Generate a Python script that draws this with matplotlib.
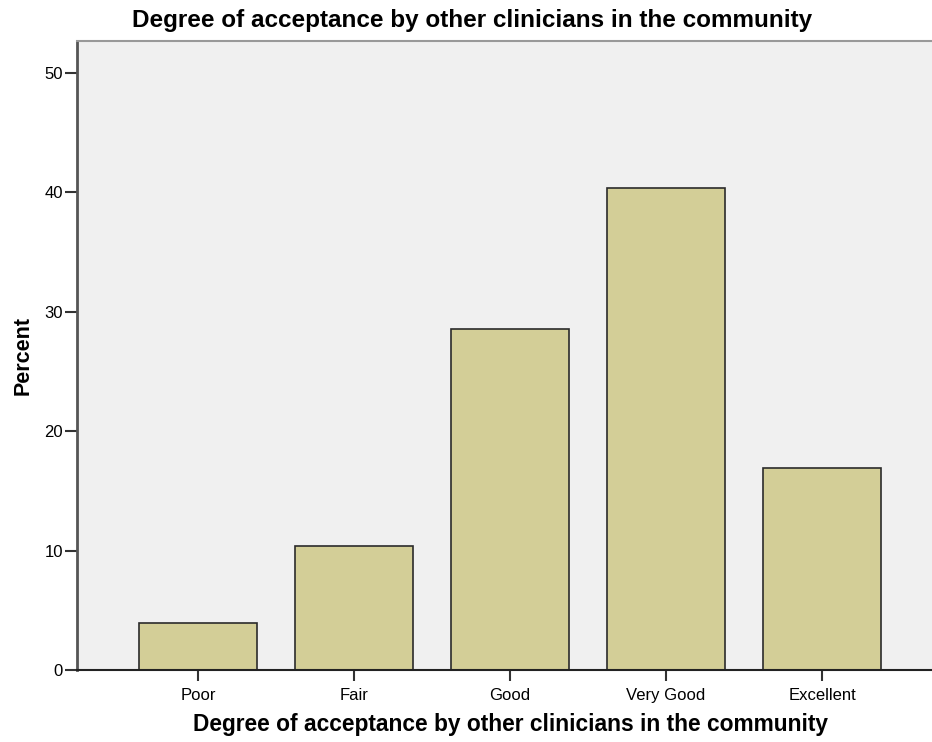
import numpy as np
from matplotlib import pyplot as plt

plt.rcParams['font.family'] = ['Liberation Sans', 'DejaVu Sans']

#categories and percent values
categories = ["Poor", "Fair", "Good", "Very Good", "Excellent"]
percent = [3.9, 10.4, 28.6, 40.4, 16.9]
yticks = [0, 10, 20, 30, 40, 50]
title = "Degree of acceptance by other clinicians in the community"

fig = plt.figure(figsize=(9.32, 7.42), dpi=100)
ax = fig.add_axes([77/932, 72/742, 1 - 77/932, (670-41)/742])
ax.set_facecolor("#f0f0f0")

x = np.arange(len(categories))
ax.bar(x, percent, width=0.756, color="#d3ce97", edgecolor="#2b2b2b", linewidth=1.2, zorder=2)

ax.set_xlim(-0.776, 4.705)
ax.set_ylim(0, 52.68)
ax.set_xticks(x)
ax.set_xticklabels(categories, fontsize=12)
ax.set_yticks(yticks)
ax.set_yticklabels([str(t) for t in yticks], fontsize=12)
ax.tick_params(axis='y', length=9, width=1.5, pad=1, color="#333333")
ax.tick_params(axis='x', length=8, width=1.5, pad=5, color="#333333")

ax.spines['right'].set_visible(False)
ax.spines['top'].set_color("#999999")
ax.spines['top'].set_linewidth(1.5)
ax.spines['left'].set_color("#555555")
ax.spines['left'].set_linewidth(2)
ax.spines['bottom'].set_color("#222222")
ax.spines['bottom'].set_linewidth(1.5)

ax.set_ylabel("Percent", fontsize=15.5, fontweight='bold', labelpad=8)
ax.set_xlabel(title, fontsize=16.4, fontweight='bold')
ax.xaxis.set_label_coords(0.507, -0.086)
ax.xaxis.label.set_va('center')
fig.text(0.506, 1 - 20/742, title, fontsize=17.5, fontweight='bold', ha='center', va='center')

fig.savefig("out.png", dpi=100)
